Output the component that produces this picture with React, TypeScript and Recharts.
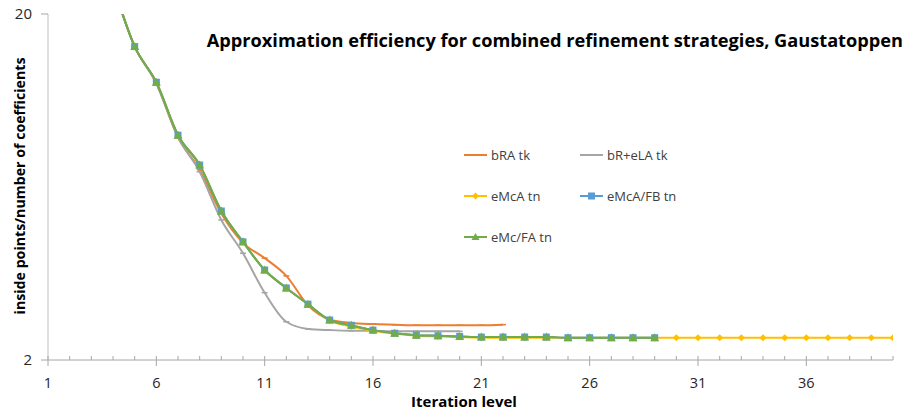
import React from 'react';
import { LineChart, Line, XAxis, YAxis, Legend } from 'recharts';

const iterations = [1, 2, 3, 4, 5, 6, 7, 8, 9, 10, 11, 12, 13, 14, 15, 16, 17, 18, 19, 20, 21, 22, 23, 24, 25, 26, 27, 28, 29, 30, 31, 32, 33, 34, 35, 36, 37, 38, 39, 40];

const bRAtk = [70, 50, 35, 24, 16.1, 12.6, 8.8, 7.1, 5.3, 4.36, 3.94, 3.5, 2.88, 2.62, 2.56, 2.54, 2.53, 2.52, 2.52, 2.52, 2.52, 2.53];
const bReLAtk = [70, 50, 35, 24, 16.1, 12.6, 8.8, 7.0, 5.08, 4.07, 3.13, 2.58, 2.46, 2.44, 2.43, 2.43, 2.42, 2.42, 2.42, 2.42];
const eMcAtn = [70, 50, 35, 24, 16.1, 12.7, 8.93, 7.32, 5.39, 4.39, 3.64, 3.23, 2.9, 2.6, 2.5, 2.43, 2.38, 2.35, 2.34, 2.33, 2.32, 2.32, 2.32, 2.32, 2.32, 2.32, 2.32, 2.32, 2.32, 2.32, 2.32, 2.32, 2.32, 2.32, 2.32, 2.32, 2.32, 2.32, 2.32, 2.32];
const eMcAFBtn = [70, 50, 35, 24, 16.1, 12.7, 8.93, 7.32, 5.39, 4.39, 3.64, 3.23, 2.9, 2.61, 2.52, 2.44, 2.39, 2.36, 2.35, 2.34, 2.33, 2.33, 2.33, 2.33, 2.32, 2.32, 2.32, 2.32, 2.32];
const eMcFAtn = [70, 50, 35, 24, 16.1, 12.7, 8.93, 7.32, 5.39, 4.39, 3.64, 3.23, 2.9, 2.61, 2.52, 2.44, 2.39, 2.36, 2.35, 2.34, 2.33, 2.33, 2.33, 2.33, 2.32, 2.32, 2.32, 2.32, 2.32];

const xTicks = iterations;
const yTicks = [2, 20];

const seriesNames = ['bRA tk', 'bR+eLA tk', 'eMcA tn', 'eMcA/FB tn', 'eMc/FA tn'];
const colors = ['#ED7D31', '#A5A5A5', '#FFC000', '#5B9BD5', '#70AD47'];

const data = iterations.map((x, i) => ({
  x,
  s0: bRAtk[i],
  s1: bReLAtk[i],
  s2: eMcAtn[i],
  s3: eMcAFBtn[i],
  s4: eMcFAtn[i],
}));

const FONT = '"Open Sans", sans-serif';

const DashDot = (color: string) => (props: any) => {
  const { cx, cy } = props;
  if (cx == null || cy == null) return null;
  return <line key={`${cx}-${cy}`} x1={cx - 3} x2={cx + 3} y1={cy} y2={cy} stroke={color} strokeWidth={1.5} />;
};

const SquareDot = (color: string) => (props: any) => {
  const { cx, cy } = props;
  if (cx == null || cy == null) return null;
  return <rect key={`${cx}-${cy}`} x={cx - 3.5} y={cy - 3.5} width={7} height={7} fill={color} />;
};

const TriDot = (color: string) => (props: any) => {
  const { cx, cy } = props;
  if (cx == null || cy == null) return null;
  return <polygon key={`${cx}-${cy}`} points={`${cx},${cy - 4.5} ${cx + 4.5},${cy + 3.5} ${cx - 4.5},${cy + 3.5}`} fill={color} />;
};

const DiamondDot = (color: string) => (props: any) => {
  const { cx, cy } = props;
  if (cx == null || cy == null) return null;
  return <polygon key={`${cx}-${cy}`} points={`${cx},${cy - 3.5} ${cx + 3.5},${cy} ${cx},${cy + 3.5} ${cx - 3.5},${cy}`} fill={color} />;
};

const XTick = (props: any) => {
  const { x, y, payload } = props;
  const v = payload.value;
  const major = (v - 1) % 5 === 0;
  return (
    <g>
      {major ? (
        <line x1={x} x2={x} y1={y - 4} y2={y + 6} stroke="#A6A6A6" strokeWidth={1} />
      ) : (
        <line x1={x} x2={x} y1={y - 4} y2={y} stroke="#A6A6A6" strokeWidth={1} />
      )}
      {major && (
        <text x={x} y={y + 28} textAnchor="middle" fontFamily={FONT} fontSize={14.5} fill="#262626">
          {v}
        </text>
      )}
    </g>
  );
};

const LegendContent = () => {
  const items = [
    { name: seriesNames[0], color: colors[0], col: 0, row: 0, mark: 'none' },
    { name: seriesNames[1], color: colors[1], col: 1, row: 0, mark: 'none' },
    { name: seriesNames[2], color: colors[2], col: 0, row: 1, mark: 'diamond' },
    { name: seriesNames[3], color: colors[3], col: 1, row: 1, mark: 'square' },
    { name: seriesNames[4], color: colors[4], col: 0, row: 2, mark: 'tri' },
  ];
  return (
    <svg width={260} height={110} style={{ overflow: 'visible', display: 'block' }}>
      {items.map((it) => {
        const x0 = it.col * 116;
        const y0 = 5 + it.row * 41;
        const cx = x0 + 11.5;
        return (
          <g key={it.name}>
            <line x1={x0} x2={x0 + 23} y1={y0} y2={y0} stroke={it.color} strokeWidth={2} />
            {it.mark === 'diamond' && (
              <polygon points={`${cx},${y0 - 3.5} ${cx + 3.5},${y0} ${cx},${y0 + 3.5} ${cx - 3.5},${y0}`} fill={it.color} />
            )}
            {it.mark === 'square' && <rect x={cx - 3.5} y={y0 - 3.5} width={7} height={7} fill={it.color} />}
            {it.mark === 'tri' && (
              <polygon points={`${cx},${y0 - 4} ${cx + 4},${y0 + 3} ${cx - 4},${y0 + 3}`} fill={it.color} />
            )}
            <text x={x0 + 27} y={y0 + 4.5} fontFamily={FONT} fontSize={13} fill="#404040">
              {it.name}
            </text>
          </g>
        );
      })}
    </svg>
  );
};

export default function App() {
  return (
    <div style={{ position: 'absolute', left: 0, top: 0, width: 907, height: 414, background: '#fff' }}>
      <LineChart width={907} height={414} data={data} margin={{ top: 14, right: 14, bottom: 0, left: 0 }}>
        <XAxis
          dataKey="x"
          type="number"
          domain={[1, 40]}
          ticks={xTicks}
          interval={0}
          tick={<XTick />}
          tickLine={false}
          tickSize={0}
          tickMargin={0}
          height={54}
          axisLine={{ stroke: '#A6A6A6' }}
          allowDataOverflow
          label={(p: any) => (
            <text x={464} y={407} textAnchor="middle" fontFamily={FONT} fontWeight="bold" fontSize={15} fill="#000">
              Iteration level
            </text>
          )}
        />
        <YAxis
          scale="log"
          domain={[2, 20]}
          ticks={yTicks}
          allowDataOverflow
          width={48}
          tickSize={7}
          tickMargin={9}
          tickLine={{ stroke: '#A6A6A6' }}
          axisLine={{ stroke: '#BFBFBF' }}
          tick={{ fontFamily: FONT, fontSize: 15, fill: '#262626' }}
          label={(p: any) => (
            <text
              x={19}
              y={186}
              transform="rotate(-90 19 186)"
              textAnchor="middle"
              dominantBaseline="central"
              fontFamily={FONT}
              fontWeight="bold"
              fontSize={14.2}
              fill="#000"
            >
              inside points/number of coefficients
            </text>
          )}
        />
        <Legend
          content={<LegendContent />}
          layout="horizontal"
          verticalAlign="middle"
          align="center"
          wrapperStyle={{ position: 'absolute', left: 464, top: 150, width: 260, height: 110 }}
        />
        <Line type="monotone" dataKey="s0" name={seriesNames[0]} stroke={colors[0]} strokeWidth={2} dot={DashDot(colors[0])} isAnimationActive={false} />
        <Line type="monotone" dataKey="s1" name={seriesNames[1]} stroke={colors[1]} strokeWidth={2} dot={DashDot(colors[1])} isAnimationActive={false} />
        <Line type="monotone" dataKey="s2" name={seriesNames[2]} stroke={colors[2]} strokeWidth={2} dot={DiamondDot(colors[2])} isAnimationActive={false} />
        <Line type="monotone" dataKey="s3" name={seriesNames[3]} stroke={colors[3]} strokeWidth={2} dot={SquareDot(colors[3])} isAnimationActive={false} />
        <Line type="monotone" dataKey="s4" name={seriesNames[4]} stroke={colors[4]} strokeWidth={2} dot={TriDot(colors[4])} isAnimationActive={false} />
        <text x={903} y={47} textAnchor="end" fontFamily={FONT} fontWeight="bold" fontSize={18.2} fill="#000">
          Approximation efficiency for combined refinement strategies, Gaustatoppen
        </text>
      </LineChart>
    </div>
  );
}
